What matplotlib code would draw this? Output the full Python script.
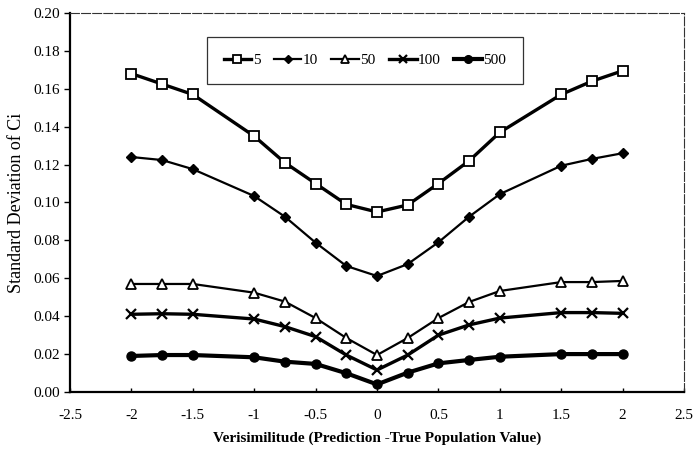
import matplotlib
matplotlib.use("Agg")
import matplotlib.pyplot as plt

plt.rcParams['font.family'] = ['Liberation Serif', 'DejaVu Serif']

# Verisimilitude (prediction minus true population value)
verisimilitude = [-2, -1.75, -1.5, -1, -0.75, -0.5, -0.25, 0, 0.25, 0.5, 0.75, 1, 1.5, 1.75, 2]

# Standard deviation of Ci for each sample size
sd_n5 = [0.168, 0.1625, 0.157, 0.135, 0.121, 0.110, 0.099, 0.095, 0.0987, 0.110, 0.122, 0.137, 0.157, 0.164, 0.1695]
sd_n10 = [0.124, 0.1224, 0.1176, 0.1034, 0.0925, 0.0788, 0.0665, 0.0612, 0.0675, 0.079, 0.0925, 0.1044, 0.1194, 0.123, 0.126]
sd_n50 = [0.057, 0.057, 0.057, 0.0524, 0.0477, 0.039, 0.0285, 0.0195, 0.0285, 0.039, 0.0475, 0.0533, 0.058, 0.058, 0.0586]
sd_n100 = [0.041, 0.0413, 0.041, 0.0385, 0.0345, 0.0292, 0.0195, 0.0116, 0.0195, 0.030, 0.0354, 0.039, 0.0419, 0.0419, 0.0415]
sd_n500 = [0.019, 0.0195, 0.0195, 0.0183, 0.016, 0.0148, 0.0099, 0.004, 0.0102, 0.0151, 0.0169, 0.0186, 0.020, 0.020, 0.020]

series_labels = ['5', '10', '50', '100', '500']

fig = plt.figure(figsize=(6.95, 4.53), dpi=100)
ax = fig.add_axes([0.1007, 0.1347, 0.8835, 0.8366])

styles = [
    dict(marker='s', markersize=6.5, markerfacecolor='white', markeredgewidth=1.3, linewidth=2.4),
    dict(marker='D', markersize=5, markerfacecolor='black', markeredgewidth=1.0, linewidth=1.6),
    dict(marker='^', markersize=6.5, markerfacecolor='white', markeredgewidth=1.3, linewidth=1.6),
    dict(marker='x', markersize=7, markeredgewidth=1.6, linewidth=2.4),
    dict(marker='o', markersize=6.5, markerfacecolor='black', markeredgewidth=1.0, linewidth=3.0),
]

for values, label, st in zip([sd_n5, sd_n10, sd_n50, sd_n100, sd_n500], series_labels, styles):
    ax.plot(verisimilitude, values, color='black', markeredgecolor='black', label=label, **st)

ax.set_xlim(-2.5, 2.5)
ax.set_ylim(0, 0.20)
ax.set_xticks([-2.5, -2, -1.5, -1, -0.5, 0, 0.5, 1, 1.5, 2, 2.5])
ax.set_xticklabels(['-2.5', '-2', '-1.5', '-1', '-0.5', '0', '0.5', '1', '1.5', '2', '2.5'])
ax.set_yticks([i * 0.02 for i in range(11)])
ax.set_yticklabels(['%.2f' % (i * 0.02) for i in range(11)])
ax.tick_params(axis='x', direction='in', length=3, width=1, labelsize=11, pad=12)
ax.tick_params(axis='y', direction='out', length=4, width=1, labelsize=11, pad=3)

for side in ['left', 'bottom']:
    ax.spines[side].set_linewidth(1.6)
for side in ['top', 'right']:
    ax.spines[side].set_linewidth(0.8)
    ax.spines[side].set_linestyle((0, (8, 2)))
    ax.spines[side].set_color('#333333')

ax.set_xlabel('Verisimilitude (Prediction -True Population Value)', fontsize=11,
              fontweight='bold', labelpad=7)
ax.set_ylabel('Standard Deviation of Ci', fontsize=13, labelpad=6)

leg = ax.legend(loc='center', bbox_to_anchor=(0.223, 0.81, 0.515, 0.129), mode='expand',
                ncol=5, fontsize=11, frameon=True, fancybox=False, borderaxespad=0,
                borderpad=1.1, handlelength=1.8, handletextpad=0.1, columnspacing=1.4,
                markerscale=0.85)
leg.get_frame().set_edgecolor('black')
leg.get_frame().set_linewidth(0.9)

fig.savefig('out.png', dpi=100)
